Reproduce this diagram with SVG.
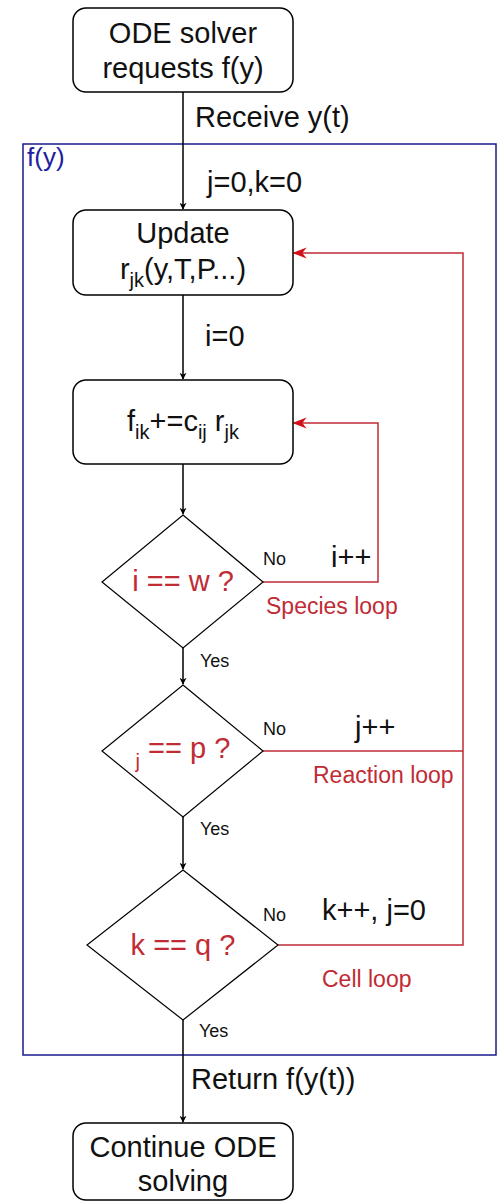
<svg xmlns="http://www.w3.org/2000/svg" width="500" height="1203" viewBox="0 0 500 1203">
<defs>
<style>
.box{fill:#fff;stroke:#000;stroke-width:1.5}
.dia{fill:#fff;stroke:#000;stroke-width:1.2}
.t{font-family:"Liberation Sans",Arial,sans-serif;font-size:29px;fill:#111}
.tc{text-anchor:middle}
.r{fill:#c02b35}
.sm{font-family:"Liberation Sans",Arial,sans-serif;font-size:18px;fill:#111}
.lp{font-family:"Liberation Sans",Arial,sans-serif;font-size:23px;fill:#c02b35}
.blk{fill:none;stroke:#000;stroke-width:1.5}
.red{fill:none;stroke:#c02b35;stroke-width:1.5}
</style>
<marker id="ab" viewBox="0 0 10 10" refX="9" refY="5" markerWidth="7" markerHeight="7" orient="auto" markerUnits="userSpaceOnUse">
<path d="M0,0 L10,5 L0,10 L3,5 Z" fill="#000"/>
</marker>
<marker id="ar" viewBox="0 0 10 10" refX="9" refY="5" markerWidth="14" markerHeight="14" orient="auto" markerUnits="userSpaceOnUse">
<path d="M0,1 L10,5 L0,9 L3,5 Z" fill="#d0101a"/>
</marker>
</defs>
<rect width="500" height="1203" fill="#fff"/>

<g id="frame">
<rect x="23" y="144" width="473" height="911" fill="none" stroke="#1a1a8c" stroke-width="1.5"/>
<text x="27" y="166" class="t" style="fill:#2020a0;font-size:26px">f(y)</text>
</g>

<g id="connectors">
<line x1="183" y1="92" x2="183" y2="209" class="blk" marker-end="url(#ab)"/>
<line x1="183" y1="295" x2="183" y2="379" class="blk" marker-end="url(#ab)"/>
<line x1="183" y1="464" x2="183" y2="514" class="blk" marker-end="url(#ab)"/>
<line x1="183" y1="648" x2="183" y2="684" class="blk" marker-end="url(#ab)"/>
<line x1="183" y1="817" x2="183" y2="869" class="blk" marker-end="url(#ab)"/>
<line x1="183" y1="1020" x2="183" y2="1122" class="blk" marker-end="url(#ab)"/>
<polyline points="263,582 378,582 378,423 294,423" class="red" marker-end="url(#ar)"/>
<polyline points="263,751 463,751" class="red"/>
<polyline points="278,945 463,945 463,253 294,253" class="red" marker-end="url(#ar)"/>
<text x="195" y="127" class="t">Receive y(t)</text>
<text x="207" y="192" class="t">j=0,k=0</text>
<text x="205" y="346" class="t">i=0</text>
<text x="263" y="565" class="sm">No</text>
<text x="331" y="567" class="t">i++</text>
<text x="266" y="614" class="lp">Species loop</text>
<text x="200" y="667" class="sm">Yes</text>
<text x="263" y="735" class="sm">No</text>
<text x="355" y="737" class="t">j++</text>
<text x="313" y="783" class="lp">Reaction loop</text>
<text x="200" y="835" class="sm">Yes</text>
<text x="263" y="921" class="sm">No</text>
<text x="322" y="920" class="t">k++, j=0</text>
<text x="322" y="987" class="lp">Cell loop</text>
<text x="199" y="1037" class="sm">Yes</text>
<text x="191" y="1089" class="t">Return f(y(t))</text>
</g>

<g id="n-start">
<rect x="73" y="8" width="220" height="84" rx="13" class="box"/>
<text x="183" y="43" class="t tc">ODE solver</text>
<text x="183" y="78" class="t tc">requests f(y)</text>
</g>

<g id="n-update">
<rect x="73" y="210" width="220" height="85" rx="13" class="box"/>
<text x="183" y="243" class="t tc">Update</text>
<text x="183" y="279" class="t tc">r<tspan font-size="20" dy="8">jk</tspan><tspan dy="-8">(y,T,P...)</tspan></text>
</g>

<g id="n-accum">
<rect x="73" y="380" width="220" height="84" rx="13" class="box"/>
<text x="183" y="431" class="t tc">f<tspan font-size="20" dy="8">ik</tspan><tspan dy="-8">+=c</tspan><tspan font-size="20" dy="8">ij</tspan><tspan dy="-8"> r</tspan><tspan font-size="20" dy="8">jk</tspan></text>
</g>

<g id="n-species">
<polygon points="183,515 263,582 183,648 102,582" class="dia"/>
<text x="183" y="591" class="t tc r">i == w ?</text>
</g>

<g id="n-reaction">
<polygon points="183,685 263,751 183,817 102,751" class="dia"/>
<text x="183" y="758" class="t tc r"><tspan font-size="20" dy="10">j</tspan><tspan dy="-10"> == p ?</tspan></text>
</g>

<g id="n-cell">
<polygon points="183,870 278,945 183,1020 87,945" class="dia"/>
<text x="183" y="955" class="t tc r">k == q ?</text>
</g>

<g id="n-end">
<rect x="73" y="1123" width="220" height="77" rx="13" class="box"/>
<text x="183" y="1157" class="t tc">Continue ODE</text>
<text x="183" y="1191" class="t tc">solving</text>
</g>
</svg>
